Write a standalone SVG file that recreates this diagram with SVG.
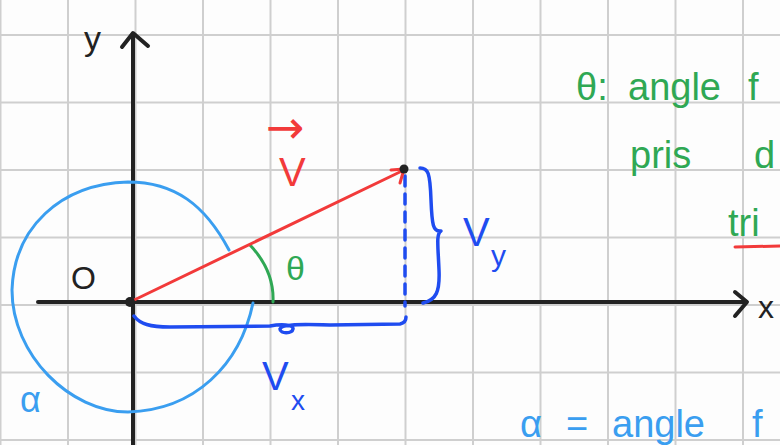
<svg xmlns="http://www.w3.org/2000/svg" width="780" height="445" viewBox="0 0 780 445">
<style>
.grid line{stroke:#cfcfcf;stroke-width:2}
.ink{fill:none;stroke-linecap:round;stroke-linejoin:round}
.t{font-family:"Liberation Sans","DejaVu Sans",sans-serif}
</style>
<rect width="780" height="445" fill="#fdfdfd"/>
<g class="grid" id="grid">
<line x1="0.5" y1="0" x2="0.5" y2="445"/>
<line x1="68" y1="0" x2="68" y2="445"/>
<line x1="135.5" y1="0" x2="135.5" y2="445"/>
<line x1="203" y1="0" x2="203" y2="445"/>
<line x1="270.5" y1="0" x2="270.5" y2="445"/>
<line x1="338" y1="0" x2="338" y2="445"/>
<line x1="405.5" y1="0" x2="405.5" y2="445"/>
<line x1="473" y1="0" x2="473" y2="445"/>
<line x1="540.5" y1="0" x2="540.5" y2="445"/>
<line x1="608" y1="0" x2="608" y2="445"/>
<line x1="675.5" y1="0" x2="675.5" y2="445"/>
<line x1="743" y1="0" x2="743" y2="445"/>
<line x1="0" y1="35" x2="780" y2="35"/>
<line x1="0" y1="102.5" x2="780" y2="102.5"/>
<line x1="0" y1="170" x2="780" y2="170"/>
<line x1="0" y1="237.5" x2="780" y2="237.5"/>
<line x1="0" y1="305" x2="780" y2="305"/>
<line x1="0" y1="372.5" x2="780" y2="372.5"/>
<line x1="0" y1="440" x2="780" y2="440"/>
</g>
<g id="axes" class="ink" stroke="#222" stroke-width="4">
<path d="M133,445 L133,34"/>
<path d="M122,47 L133,33 L148,46"/>
<path d="M38,302 L746,302"/>
<path d="M735,292 L747,302 L735,316"/>
</g>
<g id="circle-alpha" class="ink" stroke="#3a9ef0" stroke-width="3">
<path d="M229,250 C205,205 175,182 128,182 C60,184 14,228 12,290 C12,355 70,412 128,412 C195,410 240,365 253,303"/>
</g>
<g id="components" class="ink" stroke="#1f4cf0" stroke-width="3.5">
<path d="M134,316 C140,324 150,327 170,327 L270,326 C280,324 294,324 293,329 C292,334 280,334 280,329 C282,324 300,324 330,325 L400,324 C405,323 406,320 406,317"/>
<path d="M405,176 L405,306" stroke-dasharray="10 8"/>
<path d="M420,168 C428,168 430,172 431,200 C432,225 433,232 441,231 C436,234 438,245 439,270 C440,292 436,300 423,303"/>
</g>
<g id="theta-arc" class="ink" stroke="#2fa854" stroke-width="3">
<path d="M250,245 C266,262 274,280 273,302"/>
</g>
<g id="vector" class="ink" stroke="#f23a3a" stroke-width="3">
<path d="M130,302 L404,170"/>
<path d="M391,170 L404,169 L400,183"/>
</g>
<circle cx="404" cy="169" r="4.5" fill="#222"/>
<circle cx="130" cy="302" r="5" fill="#222"/>
<g id="labels" class="t">
<text x="84" y="50" font-size="34" fill="#222">y</text>
<text x="758" y="318" font-size="32" fill="#222">x</text>
<text x="71" y="289" font-size="32" fill="#222">O</text>
<text x="266" y="143" font-size="46" fill="#f23a3a" font-family="DejaVu Sans, sans-serif">→</text>
<text x="279" y="186" font-size="40" fill="#f23a3a">V</text>
<text x="286" y="280" font-size="34" fill="#2fa854">θ</text>
<text x="262" y="390" font-size="40" fill="#1f4cf0">V</text>
<text x="291" y="410" font-size="28" fill="#1f4cf0">x</text>
<text x="463" y="246" font-size="40" fill="#1f4cf0">V</text>
<text x="491" y="266" font-size="30" fill="#1f4cf0">y</text>
<text x="20" y="412" font-size="36" fill="#3a9ef0">α</text>
<text y="100" font-size="38" fill="#2fa854"><tspan x="576">θ:</tspan><tspan x="628">angle</tspan><tspan x="748">f</tspan></text>
<text y="168" font-size="38" fill="#2fa854"><tspan x="630">pris</tspan><tspan x="754">d</tspan></text>
<text x="728" y="236" font-size="38" fill="#2fa854">tri</text>
<text y="437" font-size="38" fill="#3a9ef0"><tspan x="520">α</tspan><tspan x="566">=</tspan><tspan x="612">angle</tspan><tspan x="752">f</tspan></text>
</g>
<path d="M735,247 L780,246" class="ink" stroke="#f23a3a" stroke-width="3"/>
</svg>
